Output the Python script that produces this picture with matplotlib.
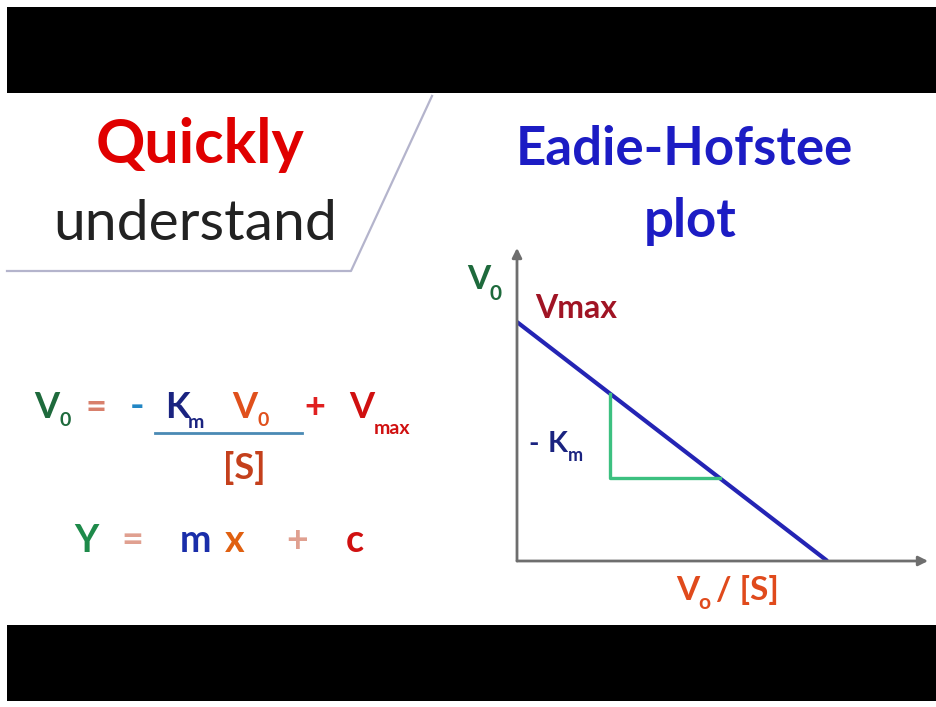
import matplotlib
matplotlib.use("Agg")
import matplotlib.pyplot as plt
import numpy as np
from matplotlib.patches import Rectangle

plt.rcParams["font.family"] = ["Lato", "DejaVu Sans"]

# Eadie-Hofstee line: V0 = -Km * (V0/[S]) + Vmax
vmax = 1.0
km = 0.77
x_axis_end = 1.72
y_axis_end = 1.31
tri_x = [0.39, 0.85]          # slope triangle x positions

W, H = 936, 707
fig = plt.figure(figsize=(W / 100, H / 100), dpi=100)
bg = fig.add_axes([0, 0, 1, 1])
bg.set_xlim(0, W)
bg.set_ylim(H, 0)
bg.axis("off")

# black bands top and bottom
bg.add_patch(Rectangle((7, 7), W - 7, 86, color="black", lw=0))
bg.add_patch(Rectangle((7, 625), W - 7, 76, color="black", lw=0))

# slanted separator
bg.plot([7, 351, 432], [271, 271, 96], color="#b4b4cc", lw=1.6)


def txt(x, y, s, size, color, weight="bold", ha="left", va="baseline"):
    bg.text(x, y, s, fontsize=size, color=color, fontweight=weight, ha=ha, va=va)


# titles
txt(200, 163, "Quickly", 44, "#e00000", ha="center")
txt(195, 240, "understand", 41, "#222222", weight="normal", ha="center")
txt(684, 165, "Eadie-Hofstee", 38, "#1c1cc4", ha="center")
txt(690, 237, "plot", 38, "#1c1cc4", ha="center")

# equation 1
txt(34, 418, "V", 26, "#1e6a3c")
txt(59, 426, "0", 14, "#1e6a3c")
txt(86, 418, "=", 26, "#d8806c")
txt(130, 418, "-", 28, "#2286c4")
txt(165, 418, "K", 26, "#1a2380")
txt(188, 428, "m", 14, "#1a2380")
txt(232, 418, "V", 26, "#e0501c")
txt(257, 426, "0", 14, "#e0501c")
bg.plot([155, 302], [433, 433], color="#4a8ab4", lw=2)
txt(223, 479, "[S]", 26, "#c4401c")
txt(304, 418, "+", 26, "#e02020")
txt(349, 418, "V", 26, "#d01010")
txt(374, 434, "max", 14, "#d01010")

# equation 2
txt(74, 552, "Y", 27, "#1e8a4a")
txt(121, 552, "=", 27, "#e0a090")
txt(180, 552, "m", 27, "#1a2eaa")
txt(225, 552, "x", 27, "#e06010")
txt(286, 552, "+", 27, "#e0a090")
txt(346, 552, "c", 27, "#d01010")

# plot axes: data origin at pixel (517, 561), 239 px per unit
px = 239
ax = fig.add_axes([517 / W, (H - 561) / H, x_axis_end * px / W, y_axis_end * px / H])
ax.set_xlim(0, x_axis_end)
ax.set_ylim(0, y_axis_end)
ax.axis("off")
ax.patch.set_alpha(0)

arrow = dict(arrowstyle="-|>", color="#6e6e6e", lw=2, mutation_scale=14, shrinkA=0, shrinkB=0)
ax.annotate("", xy=(x_axis_end, 0), xytext=(0, 0), arrowprops=arrow, annotation_clip=False)
ax.annotate("", xy=(0, y_axis_end), xytext=(0, 0), arrowprops=arrow, annotation_clip=False)

xs = np.array([0, vmax / km])
ax.plot(xs, vmax - km * xs, color="#2424b4", lw=3, solid_capstyle="butt")

ty = [vmax - km * tri_x[0], vmax - km * tri_x[1]]
ax.plot([tri_x[0], tri_x[0], tri_x[1]], [ty[0], ty[1], ty[1]], color="#3cc080", lw=2.4)

# axis labels
txt(467, 289, "V", 24, "#1e6a3c")
txt(490, 300, "0", 15, "#1e6a3c")
txt(535, 318, "Vmax", 23, "#a01424")
txt(528, 452, "-", 20, "#1a2380")
txt(548, 452, "K", 21, "#1a2380")
txt(568, 461, "m", 13, "#1a2380")
txt(676, 600, "V", 24, "#e04a1c")
txt(698, 609, "o", 15, "#e04a1c")
txt(716, 600, "/ [S]", 24, "#e04a1c")

fig.savefig("out.png", dpi=100, facecolor="white")
